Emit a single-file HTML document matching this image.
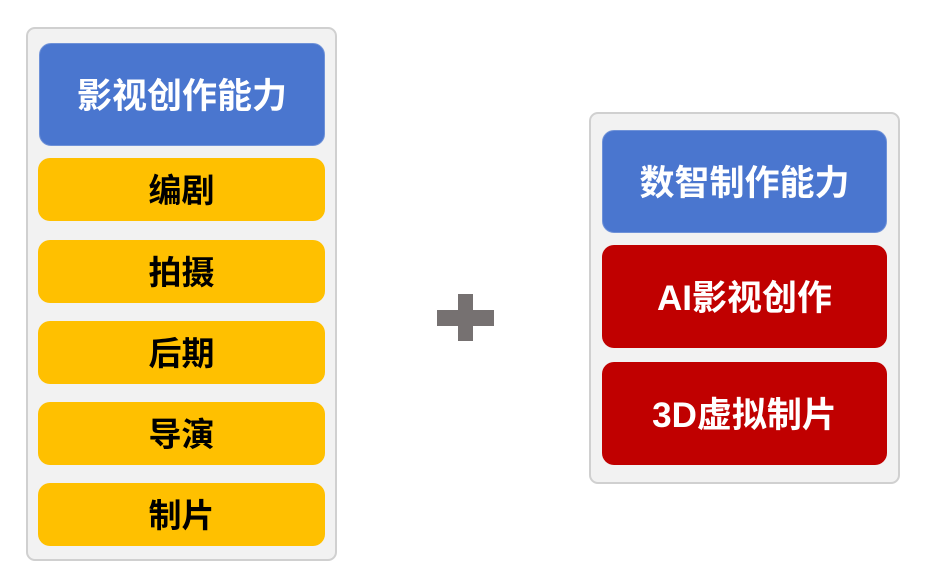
<!DOCTYPE html>
<html><head><meta charset="utf-8"><style>
body{margin:0;width:926px;height:583px;background:#fff;position:relative;overflow:hidden;font-family:"Liberation Sans","Noto Sans CJK SC",sans-serif;font-weight:bold}
div{position:absolute;box-sizing:border-box}
.panel{background:#f2f2f2;border:2px solid #d0d0d0;border-radius:9px}
.b{display:flex;align-items:center;justify-content:center;border-radius:12px;padding-bottom:3px}
.blue{background:#4a76cf;color:#fff;font-size:35px;border:1px solid #6f92d8}
.y{background:#ffc000;color:#000;font-size:33px;left:38px;width:287px;height:63px}
.r{background:#c00000;color:#fff;font-size:35px;left:602px;width:285px;height:103px}
.p{background:#767171}
</style></head><body>
<div class="panel" style="left:26px;top:27px;width:311px;height:534px"></div>
<div class="b blue" style="left:39px;top:43px;width:286px;height:103px">影视创作能力</div>
<div class="b y" style="top:158px">编剧</div>
<div class="b y" style="top:240px">拍摄</div>
<div class="b y" style="top:321px">后期</div>
<div class="b y" style="top:402px">导演</div>
<div class="b y" style="top:483px">制片</div>
<div class="p" style="left:437px;top:310px;width:57px;height:16px"></div>
<div class="p" style="left:458px;top:294px;width:15px;height:47px"></div>
<div class="panel" style="left:589px;top:112px;width:311px;height:372px"></div>
<div class="b blue" style="left:602px;top:130px;width:285px;height:103px">数智制作能力</div>
<div class="b r" style="top:245px">AI影视创作</div>
<div class="b r" style="top:362px">3D虚拟制片</div>
</body></html>
